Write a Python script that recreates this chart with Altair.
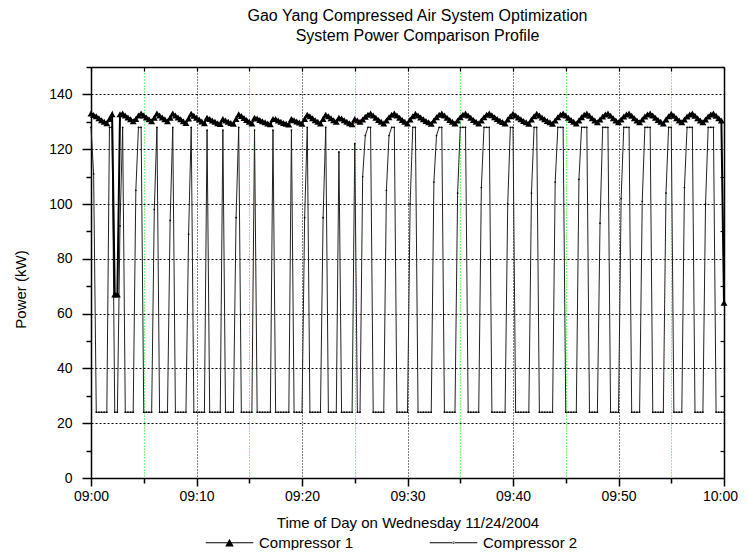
import altair as alt
import pandas as pd

SAMPLE_SECONDS = 15

comp1_kw = [
    133.0, 132.5, 132.0, 131.3, 130.6, 130.0, 129.5, 131.0, 132.8, 67.0,
    67.0, 132.8, 133.0, 132.3, 131.6, 130.9, 130.2, 131.0, 132.3, 133.0,
    132.3, 131.6, 130.9, 130.2, 131.5, 133.0, 132.3, 131.6, 130.9, 130.2,
    131.5, 133.0, 132.3, 131.6, 130.9, 130.2, 129.6, 131.2, 132.9, 132.2,
    131.5, 130.8, 130.1, 129.5, 131.5, 131.0, 130.5, 130.0, 129.5, 129.2,
    131.0, 130.5, 130.0, 129.6, 129.3, 131.0, 132.8, 132.1, 131.4, 130.7,
    130.0, 129.4, 131.5, 131.2, 130.7, 130.2, 129.8, 129.4, 129.1, 131.0,
    131.0, 130.5, 130.0, 129.6, 129.3, 129.0, 131.0, 130.6, 130.1, 129.7,
    129.3, 131.0, 132.6, 132.0, 131.3, 130.6, 130.0, 129.4, 131.0, 132.6,
    132.0, 131.3, 130.6, 130.0, 131.5, 131.2, 130.6, 130.0, 129.5, 129.1,
    131.0, 130.5, 130.0, 130.8, 131.8, 132.6, 133.0, 132.3, 131.5, 130.7,
    130.0, 129.4, 130.5, 131.7, 132.6, 133.0, 132.3, 131.5, 130.7, 130.0,
    129.4, 130.8, 132.0, 132.9, 132.3, 131.6, 130.9, 130.3, 129.8, 129.3,
    130.5, 131.7, 132.6, 133.0, 132.3, 131.5, 130.7, 130.0, 129.4, 130.5,
    131.7, 132.6, 133.0, 132.3, 131.5, 130.7, 130.0, 129.4, 130.5, 131.7,
    132.6, 133.0, 132.4, 131.7, 131.0, 130.4, 129.9, 129.4, 130.8, 132.0,
    132.9, 132.3, 131.6, 130.9, 130.3, 129.8, 129.3, 130.8, 132.0, 132.9,
    132.3, 131.6, 130.9, 130.3, 129.8, 129.3, 130.5, 131.7, 132.6, 133.0,
    132.3, 131.5, 130.7, 130.0, 129.4, 130.5, 131.7, 132.6, 133.0, 132.2,
    131.3, 130.5, 129.8, 130.8, 131.9, 132.7, 133.0, 132.2, 131.3, 130.5,
    129.8, 130.8, 131.9, 132.7, 133.0, 132.2, 131.3, 130.5, 129.8, 130.8,
    131.9, 132.7, 133.0, 132.3, 131.5, 130.7, 130.0, 129.4, 130.8, 132.0,
    132.9, 132.2, 131.3, 130.5, 129.8, 130.8, 131.9, 132.7, 133.0, 132.2,
    131.3, 130.5, 129.8, 130.8, 131.9, 132.7, 133.0, 132.2, 131.3, 130.5,
    64.0,
]

comp2_kw = [
    128, 111, 24, 24, 24, 24, 24, 128, 128, 24,
    24, 92, 128, 24, 24, 24, 24, 105, 128, 128,
    24, 24, 24, 24, 98, 128, 24, 24, 24, 24,
    94, 128, 24, 24, 24, 24, 24, 89, 128, 24,
    24, 24, 24, 24, 127, 24, 24, 24, 24, 24,
    127, 24, 24, 24, 24, 95, 128, 24, 24, 24,
    24, 24, 127, 24, 24, 24, 24, 24, 24, 127,
    24, 24, 24, 24, 24, 24, 127, 24, 24, 24,
    24, 95, 128, 24, 24, 24, 24, 24, 95, 128,
    24, 24, 24, 24, 119, 24, 24, 24, 24, 24,
    122, 24, 24, 110, 125, 128, 128, 24, 24, 24,
    24, 24, 105, 125, 128, 128, 24, 24, 24, 24,
    24, 100, 128, 128, 24, 24, 24, 24, 24, 24,
    108, 125, 128, 128, 24, 24, 24, 24, 24, 104,
    128, 128, 128, 24, 24, 24, 24, 24, 106, 128,
    128, 128, 24, 24, 24, 24, 24, 24, 100, 128,
    128, 24, 24, 24, 24, 24, 24, 104, 128, 128,
    24, 24, 24, 24, 24, 24, 108, 128, 128, 128,
    24, 24, 24, 24, 24, 109, 128, 128, 128, 24,
    24, 24, 24, 93, 128, 128, 128, 24, 24, 24,
    24, 102, 128, 128, 128, 24, 24, 24, 24, 101,
    128, 128, 128, 24, 24, 24, 24, 24, 104, 128,
    128, 24, 24, 24, 24, 106, 128, 128, 128, 24,
    24, 24, 24, 100, 128, 128, 128, 24, 24, 24,
    24,
]

series_names = ["Compressor 1", "Compressor 2"]
x_tick_minutes = [0, 10, 20, 30, 40, 50, 60]
x_tick_labels = ["09:00", "09:10", "09:20", "09:30", "09:40", "09:50", "10:00"]
x_minor_minutes = [5, 15, 25, 35, 45, 55]
y_major = [0, 20, 40, 60, 80, 100, 120, 140]
y_minor = [10, 30, 50, 70, 90, 110, 130, 150]

FONT = "Liberation Sans"


def table(values, name):
    return pd.DataFrame({
        "minute": [i * SAMPLE_SECONDS / 60 for i in range(len(values))],
        "kw": values,
        "series": name,
    })


df1 = table(comp1_kw, series_names[0])
df2 = table(comp2_kw, series_names[1])

PLOT_W, PLOT_H = 633, 411
xscale = alt.Scale(domain=[0, 60], nice=False, zero=False)
yscale = alt.Scale(domain=[0, 150], nice=False, zero=False)

label_expr = f"{x_tick_labels}[round(datum.value / 10)]"

x_major_axis = alt.Axis(
    orient="bottom", values=x_tick_minutes, labelExpr=label_expr,
    tickSize=8, tickWidth=1.5, tickColor="black",
    domainColor="black", domainWidth=1.5,
    grid=True, gridColor="black", gridDash=[1, 2], gridWidth=1, gridOpacity=1,
    labelFont=FONT, labelFontSize=14, labelColor="black", labelPadding=3,
    labelFlush=False, labelOverlap=False,
    labelOffset={"condition": {"test": "datum.value == 60", "value": -4}, "value": 0},
    title="Time of Day on Wednesday 11/24/2004", titleFont=FONT,
    titleFontSize=15, titleFontWeight="normal", titleColor="black", titlePadding=12,
)
x_minor_axis = alt.Axis(
    orient="bottom", values=x_minor_minutes, tickSize=5, tickWidth=1.5,
    tickColor="black", labels=False, domain=False, title=None,
    grid=True, gridColor="#00ee00", gridDash=[1, 2], gridWidth=1, gridOpacity=1,
)
x_top_axis = alt.Axis(
    orient="bottom", offset=-PLOT_H, values=x_tick_minutes + x_minor_minutes,
    tickSize=4, tickWidth=1.2, tickColor="black", labels=False,
    domainColor="black", domainWidth=1.5, grid=False, title=None,
)
y_major_axis = alt.Axis(
    orient="left", values=y_major, tickSize=9, tickWidth=1.5, tickColor="black",
    domainColor="black", domainWidth=1.5,
    grid=True, gridColor="black", gridDash=[2, 2], gridWidth=1, gridOpacity=1,
    labelFont=FONT, labelFontSize=14, labelColor="black", labelPadding=10,
    title="Power (kW)", titleFont=FONT, titleFontSize=15,
    titleFontWeight="normal", titleColor="black", titleX=-63, titleY=222,
)
y_minor_axis = alt.Axis(
    orient="left", values=y_minor, tickSize=5, tickWidth=1.5, tickColor="black",
    labels=False, domain=False, grid=False, title=None,
)
y_right_axis = alt.Axis(
    orient="left", offset=-PLOT_W, values=y_minor, tickSize=4, tickWidth=1.2,
    tickColor="black", labels=False, domainColor="black", domainWidth=1.5,
    grid=False, title=None,
)

comp2_line = alt.Chart(df2).mark_line(color="#222222", strokeWidth=1).encode(
    x=alt.X("minute:Q", scale=xscale, axis=x_major_axis),
    y=alt.Y("kw:Q", scale=yscale, axis=y_major_axis),
)
comp2_pts = alt.Chart(df2).mark_point(
    shape="circle", size=3, filled=True, color="black", opacity=1
).encode(
    x=alt.X("minute:Q", scale=xscale, axis=x_minor_axis),
    y=alt.Y("kw:Q", scale=yscale, axis=y_minor_axis),
)
comp1_line = alt.Chart(df1).mark_line(color="black", strokeWidth=2).encode(
    x=alt.X("minute:Q", scale=xscale, axis=x_top_axis),
    y=alt.Y("kw:Q", scale=yscale, axis=y_right_axis),
)
comp1_pts = alt.Chart(df1).mark_point(
    shape="triangle-up", size=48, filled=True, color="black", opacity=1
).encode(
    x=alt.X("minute:Q", scale=xscale, axis=None),
    y=alt.Y("kw:Q", scale=yscale, axis=None),
)

# legend glyphs: a thin filled bar (the line) plus the series marker
sym1 = "M-2.5,-0.055H2.5V0.055H-2.5ZM-0.45,0.4L0,-0.42L0.45,0.4Z"
sym2 = ("M-2.5,-0.055H2.5V0.055H-2.5Z"
        "M-0.13,0A0.13,0.13 0 1,0 0.13,0A0.13,0.13 0 1,0 -0.13,0Z")

legend_layer = alt.Chart(df1).transform_filter("false").mark_point(
    filled=True, fill="black", stroke="black", strokeWidth=0, opacity=1
).encode(
    x=alt.X("minute:Q", scale=xscale, axis=None),
    y=alt.Y("kw:Q", scale=yscale, axis=None),
    shape=alt.Shape(
        "series:N",
        scale=alt.Scale(domain=series_names, range=[sym1, sym2]),
        legend=alt.Legend(
            orient="none", legendX=115, legendY=466, direction="horizontal",
            title=None, symbolSize=361, symbolOffset=14, labelOffset=20,
            symbolStrokeColor="black", symbolFillColor="black",
            symbolStrokeWidth=0, symbolOpacity=1,
            labelFont=FONT, labelFontSize=15, labelColor="black",
            columnPadding=75,
        ),
    ),
)

chart = alt.layer(
    comp2_line, comp2_pts, comp1_line, comp1_pts, legend_layer
).resolve_axis(
    x="independent", y="independent"
).properties(
    width=PLOT_W, height=PLOT_H,
    title=alt.TitleParams(
        text=["Gao Yang Compressed Air System Optimization",
              "System Power  Comparison Profile"],
        font=FONT, fontSize=16, fontWeight="normal", color="black",
        anchor="middle", offset=22, lineHeight=20, dx=10,
    ),
    autosize=alt.AutoSizeParams(type="none"),
    padding={"left": 83, "top": 59, "right": 15, "bottom": 72},
).configure_view(
    stroke="black", strokeWidth=1.5
).configure(
    background="white"
)

chart.save("out.html", embed_options={"renderer": "svg", "actions": False})
